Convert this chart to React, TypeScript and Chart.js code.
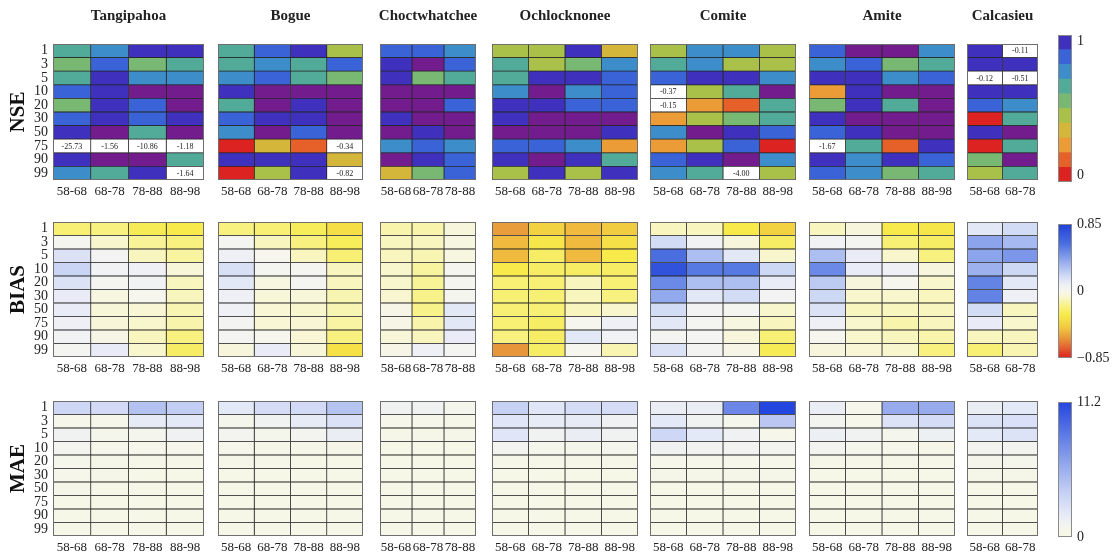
import React, { useEffect, useRef } from 'react';
import { Chart, registerables } from 'chart.js';

Chart.register(...registerables);
Chart.defaults.font.family = '"Liberation Serif", "DejaVu Serif", serif';
Chart.defaults.color = '#222';

// ---------------- data ----------------
const percentiles = ['1', '3', '5', '10', '20', '30', '50', '75', '90', '99'];
const basins = ['Tangipahoa', 'Bogue', 'Choctwhatchee', 'Ochlocknonee', 'Comite', 'Amite', 'Calcasieu'];
const periods4 = ['58-68', '68-78', '78-88', '88-98'];
const periods3 = ['58-68', '68-78', '78-88'];
const periods2 = ['58-68', '68-78'];
const basinPeriods = [periods4, periods4, periods3, periods4, periods4, periods4, periods2];
const metrics = ['NSE', 'BIAS', 'MAE'];

// NSE (rows = percentiles, cols = periods)
const tangipahoaNse = [
  [0.65, 0.75, 0.93, 0.93], [0.55, 0.85, 0.55, 0.65], [0.65, 0.94, 0.75, 0.75], [0.85, 0.94, 0.99, 0.99],
  [0.55, 0.93, 0.86, 0.99], [0.85, 0.94, 0.87, 0.95], [0.95, 0.99, 0.66, 0.98], [-25.73, -1.56, -10.86, -1.18],
  [0.94, 0.98, 0.99, 0.68], [0.76, 0.64, 0.94, -1.64]];
const bogueNse = [
  [0.65, 0.86, 0.93, 0.45], [0.65, 0.76, 0.63, 0.85], [0.76, 0.87, 0.67, 0.56], [0.94, 0.99, 0.99, 0.98],
  [0.66, 0.99, 0.96, 0.99], [0.88, 0.93, 0.94, 0.98], [0.74, 0.98, 0.85, 0.98], [0.04, 0.36, 0.17, -0.34],
  [0.93, 0.9, 0.93, 0.35], [0.03, 0.46, 0.92, -0.82]];
const choctNse = [
  [0.86, 0.82, 0.76], [0.94, 0.97, 0.86], [0.95, 0.55, 0.66], [0.99, 0.99, 0.99], [0.99, 0.99, 0.87],
  [0.95, 0.99, 0.99], [0.98, 0.93, 0.98], [0.76, 0.84, 0.76], [0.97, 0.94, 0.88], [0.35, 0.55, 0.85]];
const ochlNse = [
  [0.44, 0.45, 0.93, 0.34], [0.66, 0.46, 0.56, 0.76], [0.67, 0.95, 0.91, 0.84], [0.75, 0.98, 0.76, 0.86],
  [0.93, 0.9, 0.88, 0.87], [0.95, 0.99, 0.99, 0.98], [0.98, 0.99, 0.99, 0.95], [0.83, 0.88, 0.76, 0.22],
  [0.91, 0.99, 0.95, 0.66], [0.47, 0.91, 0.46, 0.93]];
const comiteNse = [
  [0.45, 0.76, 0.76, 0.46], [0.66, 0.75, 0.45, 0.46], [0.85, 0.96, 0.93, 0.77], [-0.37, 0.45, 0.66, 0.97],
  [-0.15, 0.25, 0.14, 0.67], [0.26, 0.46, 0.55, 0.66], [0.76, 0.98, 0.95, 0.86], [0.26, 0.45, 0.82, 0.03],
  [0.88, 0.94, 0.98, 0.75], [0.76, 0.68, -4.0, 0.46]];
const amiteNse = [
  [0.88, 0.99, 0.99, 0.74], [0.74, 0.86, 0.58, 0.66], [0.95, 0.91, 0.76, 0.85], [0.26, 0.91, 0.99, 0.99],
  [0.55, 0.94, 0.66, 0.99], [0.91, 0.99, 0.99, 0.99], [0.86, 0.94, 0.99, 0.98], [-1.67, 0.62, 0.14, 0.93],
  [0.95, 0.76, 0.95, 0.86], [0.86, 0.75, 0.55, 0.66]];
const calcNse = [
  [0.91, -0.11], [0.95, 0.96], [-0.12, -0.51], [0.96, 0.92], [0.87, 0.76],
  [0.04, 0.65], [0.95, 0.98], [0.05, 0.6], [0.56, 0.98], [0.46, 0.67]];

// BIAS
const tangipahoaBias = [
  [-0.22, -0.2, -0.28, -0.3], [0.01, -0.08, -0.16, -0.2], [0.15, 0.04, -0.1, -0.15], [0.21, 0.06, 0.08, -0.05],
  [0.15, 0.02, 0.05, -0.1], [0.1, -0.03, 0.0, -0.1], [0.1, -0.05, -0.06, -0.12], [0.08, -0.05, -0.08, -0.13],
  [0.06, -0.02, -0.1, -0.2], [0.02, 0.1, -0.08, -0.25]];
const bogueBias = [
  [-0.2, -0.22, -0.27, -0.36], [0.02, -0.1, -0.2, -0.27], [0.08, 0.0, -0.1, -0.22], [0.16, 0.02, 0.02, -0.1],
  [0.12, -0.03, 0.02, -0.1], [0.08, -0.05, -0.05, -0.12], [0.08, -0.06, -0.08, -0.12], [0.03, -0.06, -0.06, -0.14],
  [0.02, 0.0, -0.06, -0.2], [-0.04, 0.1, -0.05, -0.34]];
const choctBias = [
  [-0.13, -0.13, -0.04], [-0.1, -0.1, -0.03], [-0.1, -0.12, -0.03], [-0.08, -0.15, 0.01], [-0.08, -0.16, 0.01],
  [-0.07, -0.18, 0.01], [-0.02, -0.18, 0.12], [-0.02, -0.13, 0.12], [-0.05, -0.1, 0.1], [-0.02, 0.08, 0.02]];
const ochlBias = [
  [-0.58, -0.42, -0.5, -0.45], [-0.5, -0.32, -0.5, -0.35], [-0.5, -0.25, -0.5, -0.3], [-0.3, -0.25, -0.25, -0.25],
  [-0.22, -0.22, -0.1, -0.22], [-0.22, -0.22, -0.1, -0.2], [-0.22, -0.22, -0.1, -0.08], [-0.22, -0.25, 0.0, 0.08],
  [-0.2, -0.25, 0.12, 0.05], [-0.6, -0.25, 0.0, -0.12]];
const comiteBias = [
  [-0.1, -0.1, -0.3, -0.42], [0.18, 0.06, -0.04, -0.25], [0.6, 0.3, 0.12, -0.08], [0.75, 0.56, 0.56, 0.2],
  [0.5, 0.3, 0.3, 0.1], [0.38, 0.12, 0.18, 0.04], [0.18, 0.04, 0.02, -0.08], [0.12, 0.02, -0.03, -0.1],
  [0.02, 0.02, -0.04, -0.22], [0.15, 0.03, -0.02, -0.28]];
const amiteBias = [
  [-0.1, -0.04, -0.3, -0.32], [0.06, 0.02, -0.22, -0.25], [0.3, 0.1, -0.08, -0.2], [0.5, 0.1, 0.08, -0.04],
  [0.25, -0.04, 0.0, -0.08], [0.2, -0.08, -0.08, -0.1], [0.15, -0.1, -0.1, -0.1], [0.08, -0.08, -0.13, -0.1],
  [0.0, -0.08, -0.1, -0.13], [-0.04, -0.06, -0.08, -0.2]];
const calcBias = [
  [0.12, 0.18], [0.4, 0.32], [0.4, 0.45], [0.35, 0.2], [0.52, 0.12],
  [0.52, 0.08], [0.18, -0.1], [0.1, -0.08], [-0.1, -0.1], [-0.22, -0.12]];

// MAE
const tangipahoaMae = [
  [3.2, 3.0, 4.5, 3.8], [0.5, 0.5, 1.8, 2.0], [1.2, 0.6, 0.8, 1.3], [1.0, 0.5, 0.5, 0.5], [0.6, 0.4, 0.4, 0.4],
  [0.5, 0.4, 0.3, 0.3], [0.4, 0.3, 0.3, 0.3], [0.3, 0.3, 0.3, 0.3], [0.3, 0.3, 0.3, 0.3], [0.3, 0.3, 0.3, 0.3]];
const bogueMae = [
  [2.0, 2.8, 3.0, 4.4], [0.6, 1.2, 1.8, 2.5], [1.0, 0.6, 1.0, 1.6], [0.5, 0.4, 0.4, 0.4], [0.4, 0.4, 0.3, 0.3],
  [0.3, 0.3, 0.3, 0.3], [0.3, 0.3, 0.3, 0.3], [0.3, 0.3, 0.3, 0.3], [0.3, 0.3, 0.3, 0.3], [0.3, 0.3, 0.3, 0.3]];
const choctMae = [
  [1.2, 1.2, 0.6], [0.5, 0.5, 0.4], [0.4, 0.4, 0.4], [0.3, 0.3, 0.3], [0.3, 0.3, 0.3],
  [0.3, 0.3, 0.3], [0.3, 0.3, 0.3], [0.3, 0.3, 0.3], [0.3, 0.3, 0.3], [0.3, 0.3, 0.3]];
const ochlMae = [
  [3.6, 2.2, 2.8, 2.8], [2.2, 1.8, 1.8, 1.3], [2.2, 1.2, 1.6, 1.2], [1.0, 0.6, 0.6, 0.8], [0.4, 0.4, 0.4, 0.4],
  [0.3, 0.3, 0.3, 0.3], [0.3, 0.3, 0.3, 0.3], [0.3, 0.3, 0.3, 0.3], [0.3, 0.3, 0.3, 0.3], [0.3, 0.3, 0.3, 0.3]];
const comiteMae = [
  [1.6, 1.6, 7.8, 11.2], [2.0, 1.2, 0.6, 4.2], [3.2, 2.0, 1.3, 0.5], [1.2, 1.1, 1.1, 1.0], [0.5, 0.5, 0.5, 0.5],
  [0.4, 0.4, 0.4, 0.4], [0.3, 0.3, 0.3, 0.3], [0.3, 0.3, 0.3, 0.3], [0.3, 0.3, 0.3, 0.3], [0.3, 0.3, 0.3, 0.3]];
const amiteMae = [
  [1.6, 0.5, 5.8, 5.8], [1.0, 0.5, 2.4, 2.8], [1.5, 1.2, 0.8, 1.4], [1.0, 0.6, 0.5, 0.4], [0.4, 0.4, 0.4, 0.4],
  [0.3, 0.3, 0.3, 0.3], [0.3, 0.3, 0.3, 0.3], [0.3, 0.3, 0.3, 0.3], [0.3, 0.3, 0.3, 0.3], [0.3, 0.3, 0.3, 0.3]];
const calcMae = [
  [1.6, 2.0], [2.4, 2.6], [2.0, 2.4], [1.0, 1.0], [0.7, 0.6],
  [0.4, 0.4], [0.3, 0.3], [0.3, 0.3], [0.3, 0.3], [0.3, 0.3]];

const nseData = [tangipahoaNse, bogueNse, choctNse, ochlNse, comiteNse, amiteNse, calcNse];
const biasData = [tangipahoaBias, bogueBias, choctBias, ochlBias, comiteBias, amiteBias, calcBias];
const maeData = [tangipahoaMae, bogueMae, choctMae, ochlMae, comiteMae, amiteMae, calcMae];
const metricData = [nseData, biasData, maeData];

// colour scales
const nseBounds = [0, 0.1, 0.2, 0.3, 0.4, 0.5, 0.6, 0.7, 0.8, 0.9, 1.0];
const nseColors = ['#dc2321', '#e6612a', '#eb9c37', '#d4b63a', '#a9c148', '#78b872', '#52aa98', '#3d8dca', '#3a63d8', '#3f31bd'];
const nseTopThreshold = 0.97;
const nseTopColor = '#731c8d';
const nseTickValues = [0.045, 0.955];
const nseTickLabels = ['0', '1'];

const biasRange = [-0.85, 0.85];
const biasStops: [number, string][] = [
  [-0.85, '#dc2020'], [-0.72, '#e46030'], [-0.6, '#e8963a'], [-0.45, '#f2cc40'], [-0.3, '#f7ea4a'],
  [-0.18, '#f8f28a'], [-0.08, '#f8f6cc'], [0, '#f6f6ee'], [0.08, '#eef0f6'], [0.2, '#cdd8f5'],
  [0.4, '#8ca4ec'], [0.6, '#4a6ee0'], [0.85, '#2040d8']];
const biasTickValues = [-0.85, 0, 0.85];
const biasTickLabels = ['\u22120.85', '0', '0.85'];

const maeRange = [0, 11.2];
const maeStops: [number, string][] = [
  [0, '#f8f8e4'], [1, '#f3f4ef'], [2, '#e4e9f8'], [4, '#bfcbf3'], [7, '#7d96e9'], [11.2, '#2446e0']];
const maeTickValues = [0, 11.2];
const maeTickLabels = ['0', '11.2'];

// ---------------- layout ----------------
const panelLeft = [53, 213, 375, 487, 645, 804, 962];
const panelRight = [204, 363, 476, 638, 796, 955, 1038];
const rowTop = [44, 222, 401];
const rowBottom = [180, 357, 536];
const cbLeft = 1058;
const cbRight = 1072;
const cbTop = [35, 224, 402];
const cbBottom = [182, 358, 537];

// ---------------- helpers ----------------
function hexToRgb(h: string) {
  const n = parseInt(h.slice(1), 16);
  return [(n >> 16) & 255, (n >> 8) & 255, n & 255];
}
function interp(stops: [number, string][], v: number) {
  if (v <= stops[0][0]) return stops[0][1];
  for (let i = 1; i < stops.length; i++) {
    if (v <= stops[i][0]) {
      const [v0, c0] = stops[i - 1];
      const [v1, c1] = stops[i];
      const t = (v - v0) / (v1 - v0);
      const a = hexToRgb(c0), b = hexToRgb(c1);
      const r = a.map((x, k) => Math.round(x + (b[k] - x) * t));
      return `rgb(${r[0]},${r[1]},${r[2]})`;
    }
  }
  return stops[stops.length - 1][1];
}
function nseColor(v: number) {
  if (v < 0) return '#ffffff';
  if (v >= nseTopThreshold) return nseTopColor;
  for (let i = 0; i < nseColors.length; i++) {
    if (v >= nseBounds[i] && v < nseBounds[i + 1]) return nseColors[i];
  }
  return nseColors[nseColors.length - 1];
}
function cellColor(metric: number, v: number) {
  if (metric === 0) return nseColor(v);
  if (metric === 1) return interp(biasStops, v);
  return interp(maeStops, v);
}

const panelDeco = {
  id: 'panelDeco',
  afterDatasetsDraw(chart: any, _args: any, opts: any) {
    const { ctx, chartArea: a, scales } = chart;
    ctx.save();
    if (opts.notes) {
      ctx.font = '8px "Liberation Serif", serif';
      ctx.fillStyle = '#222';
      ctx.textAlign = 'center';
      ctx.textBaseline = 'middle';
      opts.notes.forEach((n: any) => {
        ctx.fillText(n.text, scales.x.getPixelForValue(n.col + 0.5), scales.y.getPixelForValue(n.row) + 0.5);
      });
    }
    ctx.strokeStyle = '#6e6e6e';
    ctx.lineWidth = 1;
    ctx.strokeRect(a.left + 0.5, a.top + 0.5, a.right - a.left - 1, a.bottom - a.top - 1);
    if (opts.title) {
      ctx.font = 'bold 15px "Liberation Serif", serif';
      ctx.fillStyle = '#222';
      ctx.textAlign = 'center';
      ctx.textBaseline = 'middle';
      ctx.fillText(opts.title, (a.left + a.right) / 2, opts.titleY);
    }
    ctx.restore();
  },
};

function HeatPanel({ metric, basin }: { metric: number; basin: number }) {
  const ref = useRef<HTMLCanvasElement>(null);
  const first = basin === 0;
  const cols = basinPeriods[basin];
  const values = metricData[metric][basin];
  const padL = first ? 53 : 5;
  const padR = 4;
  const top = metric === 0 ? 0 : rowTop[metric] - 18;
  const padT = rowTop[metric] - top;
  const padB = metric === 2 ? 555 - rowBottom[2] : 24;
  const left = panelLeft[basin] - padL;
  const width = panelRight[basin] - panelLeft[basin] + padL + padR;
  const height = rowBottom[metric] - rowTop[metric] + padT + padB;

  useEffect(() => {
    const notes: any[] = [];
    if (metric === 0) {
      values.forEach((row, ri) => row.forEach((v, ci) => {
        if (v < 0) notes.push({ row: ri, col: ci, text: v.toFixed(2) });
      }));
    }
    const datasets = cols.map((c, ci) => ({
      label: c,
      data: percentiles.map(() => [ci, ci + 1]),
      backgroundColor: percentiles.map((_, ri) => cellColor(metric, values[ri][ci])),
      borderColor: '#262626',
      borderWidth: 0.75,
      borderSkipped: false,
      grouped: false,
      barPercentage: 1,
      categoryPercentage: 1,
    }));
    const chart = new Chart(ref.current!, {
      type: 'bar',
      data: { labels: percentiles, datasets } as any,
      options: {
        indexAxis: 'y',
        responsive: false,
        animation: false,
        events: [],
        layout: { padding: { left: first ? 0 : padL, right: padR, top: padT, bottom: 0 } },
        plugins: {
          legend: { display: false },
          tooltip: { enabled: false },
          panelDeco: { notes, title: metric === 0 ? basins[basin] : '', titleY: 16 },
        } as any,
        scales: {
          x: {
            type: 'linear', min: 0, max: cols.length, position: 'bottom',
            grid: { display: false, drawTicks: false }, border: { display: false },
            afterBuildTicks: (s: any) => { s.ticks = cols.map((_, i) => ({ value: i + 0.5 })); },
            afterFit: (s: any) => { s.height = padB; },
            ticks: {
              autoSkip: false, maxRotation: 0, minRotation: 0, padding: 4, color: '#222',
              font: { size: 13 }, callback: (_v: any, i: number) => cols[i],
            },
          },
          y: {
            type: 'category', display: first, offset: true,
            grid: { display: false, drawTicks: false }, border: { display: false },
            afterFit: (s: any) => { s.width = padL; },
            ticks: { autoSkip: false, padding: 5, color: '#222', font: { size: 14, lineHeight: 1 } },
            title: {
              display: first, text: metrics[metric], color: '#111',
              font: { size: 21, weight: 'bold' }, padding: { top: 6, bottom: 0 },
            },
          },
        } as any,
      },
      plugins: [panelDeco],
    } as any);
    return () => chart.destroy();
  }, []);

  return (
    <canvas ref={ref} width={width} height={height}
      style={{ position: 'absolute', left, top, width, height }} />
  );
}

const cbOutline = {
  id: 'cbOutline',
  afterDatasetsDraw(chart: any) {
    const { ctx, chartArea: a } = chart;
    ctx.save();
    ctx.strokeStyle = '#8a8a8a';
    ctx.lineWidth = 1;
    ctx.strokeRect(a.left + 0.5, a.top + 0.5, a.right - a.left - 1, a.bottom - a.top - 1);
    ctx.restore();
  },
};

function ColorBar({ metric }: { metric: number }) {
  const ref = useRef<HTMLCanvasElement>(null);
  const padL = 2, padT = 12, padB = 12, axisW = 38;
  const left = cbLeft - padL;
  const top = cbTop[metric] - padT;
  const width = cbRight - cbLeft + padL + axisW;
  const height = cbBottom[metric] - cbTop[metric] + padT + padB;

  useEffect(() => {
    let datasets: any[];
    let min: number, max: number, tickValues: number[], tickLabels: string[];
    if (metric === 0) {
      min = 0; max = 1; tickValues = nseTickValues; tickLabels = nseTickLabels;
      datasets = nseColors.map((c, i) => ({
        data: [[nseBounds[i], nseBounds[i + 1]]], backgroundColor: c, borderWidth: 0,
        grouped: false, barPercentage: 1, categoryPercentage: 1,
      }));
    } else {
      const stops = metric === 1 ? biasStops : maeStops;
      const range = metric === 1 ? biasRange : maeRange;
      min = range[0]; max = range[1];
      tickValues = metric === 1 ? biasTickValues : maeTickValues;
      tickLabels = metric === 1 ? biasTickLabels : maeTickLabels;
      datasets = [{
        data: [[min, max]], borderWidth: 0, grouped: false, barPercentage: 1, categoryPercentage: 1,
        backgroundColor: (ctx: any) => {
          const ch = ctx.chart;
          if (!ch.chartArea) return '#ffffff';
          const ys = ch.scales.y;
          const g = ch.ctx.createLinearGradient(0, ys.getPixelForValue(min), 0, ys.getPixelForValue(max));
          stops.forEach(([v, c]) => g.addColorStop((v - min) / (max - min), c));
          return g;
        },
      }];
    }
    const chart = new Chart(ref.current!, {
      type: 'bar',
      data: { labels: [''], datasets },
      options: {
        responsive: false,
        animation: false,
        events: [],
        layout: { padding: { left: padL, right: 0, top: padT, bottom: padB } },
        plugins: { legend: { display: false }, tooltip: { enabled: false } },
        scales: {
          x: { display: false },
          y: {
            type: 'linear', position: 'right', min, max,
            grid: { display: false, drawTicks: false }, border: { display: false },
            afterBuildTicks: (s: any) => { s.ticks = tickValues.map((v) => ({ value: v })); },
            afterFit: (s: any) => { s.width = axisW; },
            ticks: { padding: 5, color: '#222', font: { size: 14, lineHeight: 1 }, callback: (_v: any, i: number) => tickLabels[i] },
          },
        },
      } as any,
      plugins: [cbOutline],
    } as any);
    return () => chart.destroy();
  }, []);

  return (
    <canvas ref={ref} width={width} height={height}
      style={{ position: 'absolute', left, top, width, height }} />
  );
}

export default function App() {
  return (
    <div style={{ position: 'fixed', left: 0, top: 0, width: 1112, height: 555, background: '#ffffff', overflow: 'hidden' }}>
      {metrics.map((_, m) => basins.map((_b, b) => <HeatPanel key={`${m}-${b}`} metric={m} basin={b} />))}
      {metrics.map((_, m) => <ColorBar key={`cb-${m}`} metric={m} />)}
    </div>
  );
}
